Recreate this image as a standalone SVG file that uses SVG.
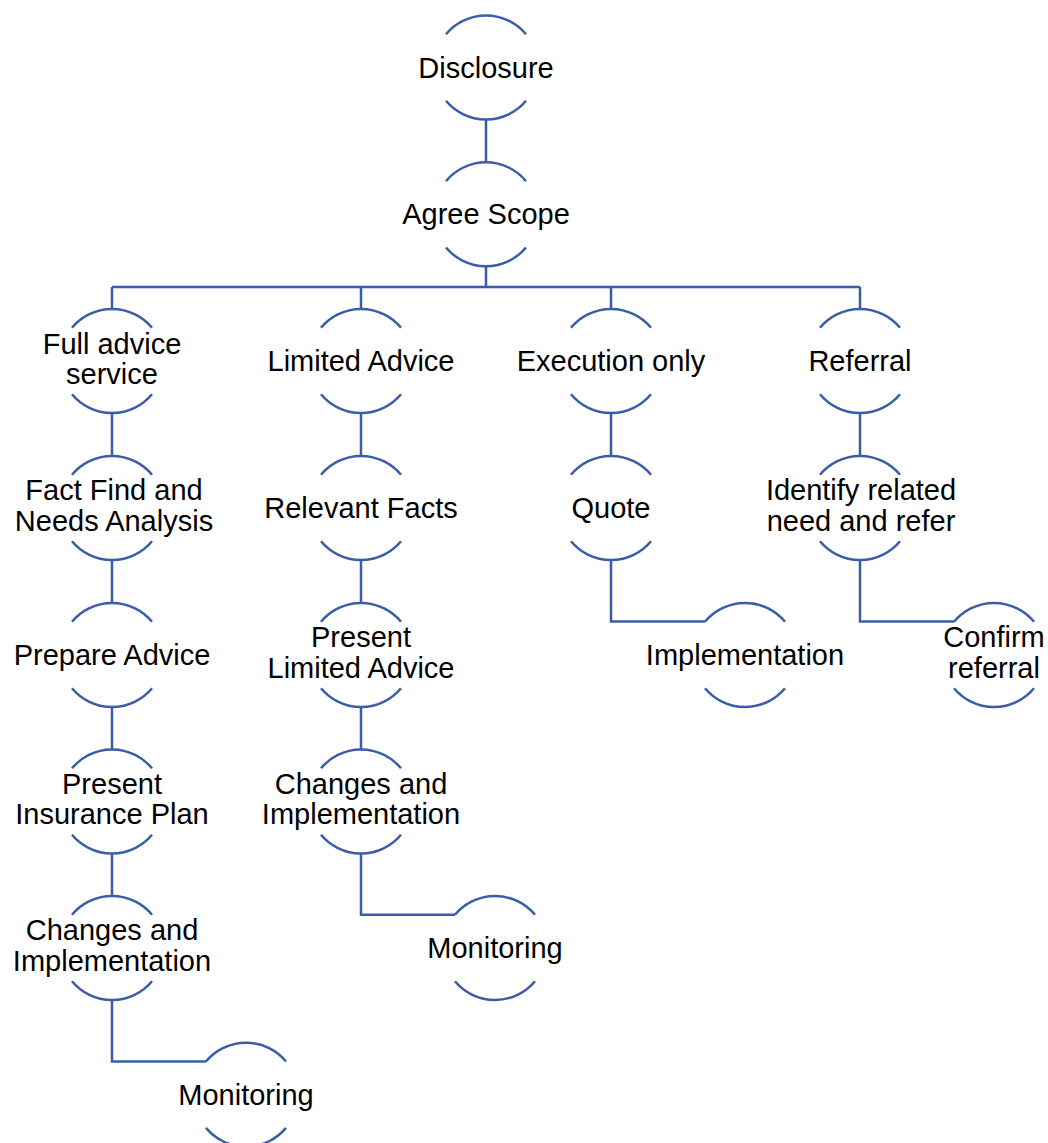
<svg xmlns="http://www.w3.org/2000/svg" width="1048" height="1143" viewBox="0 0 1048 1143">
<style>
.a{fill:none;stroke:#3B5DA8;stroke-width:2.5}
.c{fill:none;stroke:#3B5DA8;stroke-width:2.5}
text{font-family:"Liberation Sans",Arial,sans-serif;font-size:29px;fill:#000;text-anchor:middle}
</style>
<defs>
<path id="n" d="M-40,-33.2 A52,52 0 0 1 40,-33.2 M-40,33.2 A52,52 0 0 0 40,33.2"/>
</defs>
<g id="connectors">
<path class="c" d="M486,119.5 V162.3"/>
<path class="c" d="M486,266.3 V287 M112,287 H860 M112,287 V309 M361,287 V309 M611,287 V309 M860,287 V309"/>
<path class="c" d="M112,413 V456 M112,560 V603 M112,707 V750 M112,853 V896"/>
<path class="c" d="M112,1000 V1061.5 H206"/>
<path class="c" d="M361,413 V456 M361,560 V603 M361,707 V750"/>
<path class="c" d="M361,853 V914.8 H455"/>
<path class="c" d="M611,413 V456"/>
<path class="c" d="M611,560 V621.5 H705"/>
<path class="c" d="M860,413 V456"/>
<path class="c" d="M860,560 V621.5 H954"/>
</g>
<g id="disclosure"><use href="#n" class="a" x="486" y="67.5"/><text x="486" y="77.5">Disclosure</text></g>
<g id="agree-scope"><use href="#n" class="a" x="486" y="214.3"/><text x="486" y="224.3">Agree Scope</text></g>
<g id="full-advice"><use href="#n" class="a" x="112" y="361"/><text x="112" y="354">Full advice</text><text x="112" y="384">service</text></g>
<g id="fact-find"><use href="#n" class="a" x="112" y="508"/><text x="114" y="500">Fact Find and</text><text x="114" y="530.5">Needs Analysis</text></g>
<g id="prepare-advice"><use href="#n" class="a" x="112" y="655"/><text x="112" y="665">Prepare Advice</text></g>
<g id="present-insurance"><use href="#n" class="a" x="112" y="801.5"/><text x="112" y="793.5">Present</text><text x="112" y="824">Insurance Plan</text></g>
<g id="changes-1"><use href="#n" class="a" x="112" y="948"/><text x="112" y="940">Changes and</text><text x="112" y="970.5">Implementation</text></g>
<g id="monitoring-1"><use href="#n" class="a" x="246" y="1094.7"/><text x="246" y="1104.7">Monitoring</text></g>
<g id="limited-advice"><use href="#n" class="a" x="361" y="361"/><text x="361" y="371">Limited Advice</text></g>
<g id="relevant-facts"><use href="#n" class="a" x="361" y="508"/><text x="361" y="518">Relevant Facts</text></g>
<g id="present-limited"><use href="#n" class="a" x="361" y="655"/><text x="361" y="647">Present</text><text x="361" y="677.5">Limited Advice</text></g>
<g id="changes-2"><use href="#n" class="a" x="361" y="801.5"/><text x="361" y="793.5">Changes and</text><text x="361" y="824">Implementation</text></g>
<g id="monitoring-2"><use href="#n" class="a" x="495" y="948"/><text x="495" y="958">Monitoring</text></g>
<g id="execution-only"><use href="#n" class="a" x="611" y="361"/><text x="611" y="371">Execution only</text></g>
<g id="quote"><use href="#n" class="a" x="611" y="508"/><text x="611" y="518">Quote</text></g>
<g id="implementation"><use href="#n" class="a" x="745" y="655"/><text x="745" y="665">Implementation</text></g>
<g id="referral"><use href="#n" class="a" x="860" y="361"/><text x="860" y="371">Referral</text></g>
<g id="identify"><use href="#n" class="a" x="860" y="508"/><text x="861" y="500">Identify related</text><text x="861" y="530.5">need and refer</text></g>
<g id="confirm-referral"><use href="#n" class="a" x="994" y="655"/><text x="994" y="647">Confirm</text><text x="994" y="677.5">referral</text></g>
</svg>
